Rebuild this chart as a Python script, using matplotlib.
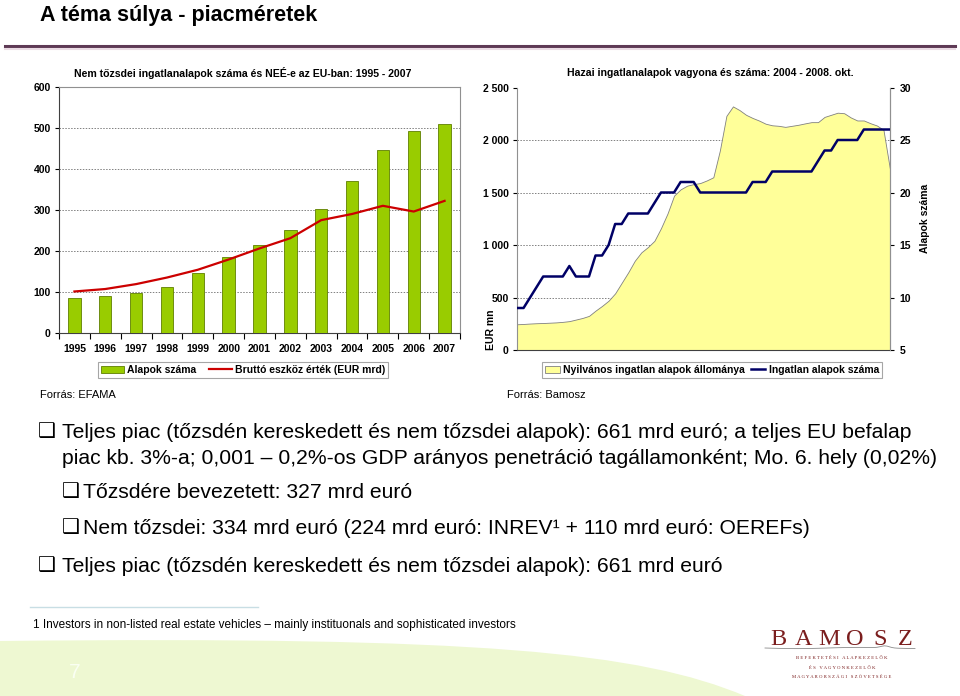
import numpy as np
import matplotlib
matplotlib.use("Agg")
import matplotlib.pyplot as plt
from matplotlib import font_manager
from matplotlib.lines import Line2D
from matplotlib.patches import Patch, PathPatch
from matplotlib.path import Path

# ---- data: left chart (EFAMA) ----
years = ['1995', '1996', '1997', '1998', '1999', '2000', '2001',
         '2002', '2003', '2004', '2005', '2006', '2007']
fund_count = [85, 90, 98, 114, 148, 185, 215, 251, 302, 372, 446, 493, 511]
gross_assets = [102, 108, 120, 136, 155, 180, 207, 232, 276, 291, 311, 297, 323]

# ---- data: right chart (Bamosz), monthly 2004.01 - 2008.10 ----
hu_assets = [245, 248, 252, 255, 257, 260, 263, 268, 275, 290,
             305, 325, 375, 420, 470, 540, 640, 740, 850, 930,
             980, 1040, 1160, 1300, 1470, 1530, 1565, 1580, 1590, 1615,
             1645, 1900, 2230, 2320, 2285, 2240, 2210, 2185, 2155, 2140,
             2135, 2125, 2135, 2145, 2158, 2170, 2170, 2220, 2240, 2260,
             2255, 2215, 2186, 2186, 2160, 2138, 2097, 1720]
hu_funds = [9, 9, 10, 11, 12, 12, 12, 12, 13, 12,
            12, 12, 14, 14, 15, 17, 17, 18, 18, 18,
            18, 19, 20, 20, 20, 21, 21, 21, 20, 20,
            20, 20, 20, 20, 20, 20, 21, 21, 21, 22,
            22, 22, 22, 22, 22, 22, 23, 24, 24, 25,
            25, 25, 25, 26, 26, 26, 26, 26]
left_ticks = [0, 500, 1000, 1500, 2000, 2500]
left_tick_labels = ['0', '500', '1 000', '1 500', '2 000', '2 500']
right_ticks = [5, 10, 15, 20, 25, 30]

bullets = [
    (38, 432, "❑", 62, "Teljes piac (tőzsdén kereskedett és nem tőzsdei alapok): 661 mrd euró; a teljes EU befalap"),
    (None, 458, None, 62, "piac kb. 3%-a; 0,001 – 0,2%-os GDP arányos penetráció tagállamonként; Mo. 6. hely (0,02%)"),
    (62, 492, "❑", 83, "Tőzsdére bevezetett: 327 mrd euró"),
    (62, 528, "❑", 83, "Nem tőzsdei: 334 mrd euró (224 mrd euró: INREV¹ + 110 mrd euró: OEREFs)"),
    (38, 566, "❑", 62, "Teljes piac (tőzsdén kereskedett és nem tőzsdei alapok): 661 mrd euró"),
]

W, H = 960, 696
avail = {f.name for f in font_manager.fontManager.ttflist}
narrow = 'Liberation Sans Narrow' if 'Liberation Sans Narrow' in avail else 'Liberation Sans'
chart_font = ['Liberation Sans', 'DejaVu Sans']
plt.rcParams['font.family'] = chart_font

fig = plt.figure(figsize=(W / 100, H / 100), dpi=100)
fig.patch.set_facecolor('white')


def fx(x):
    return x / W


def fy(y):
    return 1 - y / H


renderer = fig.canvas.get_renderer()


def fit_text(x, y, s, width, **kw):
    t = fig.text(fx(x), fy(y), s, **kw)
    bb = t.get_window_extent(renderer)
    t.set_fontsize(t.get_fontsize() * width / bb.width)
    return t


# ---- slide decoration ----
fig.text(fx(40), fy(21), "A téma súlya - piacméretek", family=[narrow, 'DejaVu Sans'],
         fontweight='bold', fontsize=15.5, va='baseline', ha='left')
fig.add_artist(Line2D([fx(5), fx(955)], [fy(46), fy(46)], color='#5E3A55', lw=2.2))
fig.add_artist(Line2D([fx(5), fx(955)], [fy(48.5), fy(48.5)], color='#EADCE4', lw=1.5))

# green band at bottom
verts = [(fx(0), fy(641)), (fx(480), fy(636)), (fx(640), fy(652)), (fx(745), fy(696)),
         (fx(0), fy(696)), (fx(0), fy(641))]
codes = [Path.MOVETO, Path.CURVE4, Path.CURVE4, Path.CURVE4, Path.LINETO, Path.CLOSEPOLY]
fig.add_artist(PathPatch(Path(verts, codes), transform=fig.transFigure,
                         facecolor='#EEF8D2', edgecolor='none', zorder=0))
fig.text(fx(75), fy(673), "7", color='#FAFFF2', fontsize=15, ha='center', va='center')

# ---- left chart ----
ax1 = fig.add_axes([fx(59), fy(333.3), fx(460 - 59), (333.3 - 87.3) / H])
x = np.arange(len(years))
ax1.bar(x, fund_count, width=0.4, color='#99CC00', edgecolor='#5F7F00', linewidth=0.6, zorder=3)
ax1.plot(x, gross_assets, color='#CC0000', lw=1.6, zorder=4)
ax1.set_xlim(-0.5, len(years) - 0.5)
ax1.set_ylim(0, 600)
ax1.set_yticks(range(0, 601, 100))
ax1.set_xticks(x)
ax1.set_xticklabels(years)
ax1.set_xticks(np.arange(-0.5, len(years), 1.0), minor=True)
ax1.tick_params(axis='x', which='major', length=0, pad=8)
ax1.tick_params(axis='x', which='minor', length=4, direction='out', width=0.8)
ax1.tick_params(axis='y', length=3, direction='out', pad=3)
for lab in ax1.get_xticklabels() + ax1.get_yticklabels():
    lab.set_fontweight('bold')
    lab.set_fontsize(7.5)
for yv in range(100, 600, 100):
    ax1.axhline(yv, color='#808080', lw=0.7, ls=(0, (1.5, 1.5)), zorder=1)
ax1.spines['top'].set_color('#909090')
ax1.spines['right'].set_color('#909090')
ax1.spines['left'].set_color('#404040')
ax1.spines['bottom'].set_color('#404040')
fig.text(fx(243), fy(73), "Nem tőzsdei ingatlanalapok száma és NEÉ-e az EU-ban: 1995 - 2007",
         fontsize=7.6, fontweight='bold', ha='center', va='center')
h1 = [Patch(facecolor='#99CC00', edgecolor='#5F7F00', lw=0.6),
      Line2D([], [], color='#CC0000', lw=1.6)]
leg1 = fig.legend(h1, ['Alapok száma', 'Bruttó eszköz érték (EUR mrd)'], ncol=2,
                  loc='center', bbox_to_anchor=(fx(243), fy(370)),
                  prop={'weight': 'bold', 'size': 7.5}, frameon=True, fancybox=False,
                  borderpad=0.3, handlelength=2.2, handletextpad=0.3, columnspacing=1.2)
leg1.get_frame().set_edgecolor('#909090')
leg1.get_frame().set_linewidth(0.8)
fig.text(fx(40), fy(395), "Forrás: EFAMA", fontsize=8, family=[narrow, 'DejaVu Sans'],
         ha='left', va='center')

# ---- right chart ----
ax2 = fig.add_axes([fx(517), fy(350), fx(373), (350 - 87.5) / H])
t = np.arange(len(hu_assets))
ax2.fill_between(t, hu_assets, 0, facecolor='#FFFF99', edgecolor='#808080', lw=0.6, zorder=2)
ax2.set_xlim(0, len(hu_assets) - 1)
ax2.set_ylim(0, 2500)
ax2.set_yticks(left_ticks)
ax2.set_yticklabels(left_tick_labels)
ax2.set_xticks([])
for yv in left_ticks[1:-1]:
    ax2.axhline(yv, color='#808080', lw=0.7, ls=(0, (1.5, 1.5)), zorder=1)
ax2.tick_params(axis='y', length=3, direction='out', pad=3, labelsize=7.5)
for lab in ax2.get_yticklabels():
    lab.set_fontweight('bold')
ax2.spines['top'].set_visible(False)
ax2.spines['left'].set_color('#909090')
ax2.spines['right'].set_color('#909090')
ax2.spines['bottom'].set_color('#404040')
ax3 = ax2.twinx()
ax3.plot(t, hu_funds, color='#000066', lw=1.8, zorder=4)
ax3.set_ylim(5, 30)
ax3.set_yticks(right_ticks)
ax3.tick_params(axis='y', length=3, direction='out', pad=4, labelsize=7.5)
for lab in ax3.get_yticklabels():
    lab.set_fontweight('bold')
ax3.spines['top'].set_visible(False)
ax3.spines['right'].set_color('#909090')
ax3.spines['left'].set_visible(False)
ax3.spines['bottom'].set_visible(False)
fig.text(fx(710), fy(73), "Hazai ingatlanalapok vagyona és száma: 2004 - 2008. okt.",
         fontsize=7.6, fontweight='bold', ha='center', va='center')
fig.text(fx(491), fy(350), "EUR mn", rotation=90, fontsize=7.5, fontweight='bold',
         ha='center', va='bottom')
fig.text(fx(925), fy(218), "Alapok száma", rotation=90, fontsize=7.5, fontweight='bold',
         ha='center', va='center')
h2 = [Patch(facecolor='#FFFF99', edgecolor='#808080', lw=0.6),
      Line2D([], [], color='#000066', lw=1.8)]
leg2 = fig.legend(h2, ['Nyilvános ingatlan alapok állománya', 'Ingatlan alapok száma'], ncol=2,
                  loc='center', bbox_to_anchor=(fx(712), fy(370)),
                  prop={'weight': 'bold', 'size': 7.5}, frameon=True, fancybox=False,
                  borderpad=0.3, handlelength=1.4, handletextpad=0.3, columnspacing=0.6)
leg2.get_frame().set_edgecolor('#909090')
leg2.get_frame().set_linewidth(0.8)
fig.text(fx(507), fy(395), "Forrás: Bamosz", fontsize=8, family=[narrow, 'DejaVu Sans'],
         ha='left', va='center')

# ---- bullet text ----
ref = fig.text(fx(62), fy(432), bullets[0][4], fontsize=15, family=[narrow, 'DejaVu Sans'],
               va='center', ha='left')
bsize = 15 * 851 / ref.get_window_extent(renderer).width
ref.remove()
for bx, by, mark, tx, s in bullets:
    if mark:
        fig.text(fx(bx), fy(by), mark, fontsize=bsize * 0.95, family=['DejaVu Sans'],
                 va='center', ha='left')
    fig.text(fx(tx), fy(by), s, fontsize=bsize, family=[narrow, 'DejaVu Sans'],
             va='center', ha='left')

# footnote
fig.add_artist(Line2D([fx(30), fx(258)], [fy(607), fy(607)], color='#C8DEE4', lw=1))
fit_text(33, 625, "1 Investors in non-listed real estate vehicles – mainly instituonals and sophisticated investors",
         487, fontsize=9, family=[narrow, 'DejaVu Sans'], va='center', ha='left')

# logo: letter-spaced serif word
for i, ch in enumerate("BAMOSZ"):
    fig.text(fx(778 + i * 25.5), fy(645), ch, fontsize=17.5, color='#7B1E1E',
             family=['Liberation Serif', 'DejaVu Serif'], ha='center', va='baseline')
sx = np.linspace(765, 915, 60)
sy = 648 - 2.0 * np.exp(-((sx - 885) / 6) ** 2) + 0.6 * np.sin((sx - 765) / 20)
fig.add_artist(Line2D(fx(sx), fy(sy), color='#8A8A8A', lw=0.6))
for ly, s in [(658, "BEFEKTETÉSI ALAPKEZELŐK"), (668, "ÉS VAGYONKEZELŐK"),
              (677, "MAGYARORSZÁGI SZÖVETSÉGE")]:
    fig.text(fx(842), fy(ly), " ".join(s), fontsize=3.4, color='#7B1E1E',
             family=['Liberation Serif', 'DejaVu Serif'], ha='center', va='center')

fig.savefig('out.png', dpi=100)
